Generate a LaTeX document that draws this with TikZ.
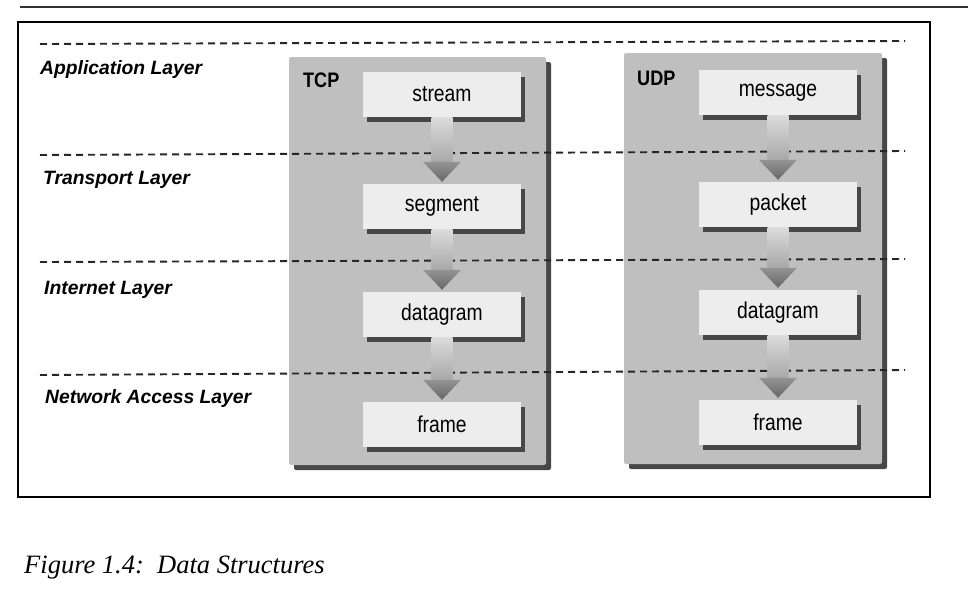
\documentclass[tikz,border=0pt]{standalone}
\usepackage{fontspec}
\setmainfont{Liberation Sans}
\newfontfamily\capfont{Liberation Serif}
\newfontfamily\condfont[FakeStretch=0.86]{Liberation Sans}
\newfontfamily\boxfont[FakeStretch=0.84]{Liberation Sans}
\usetikzlibrary{shadows,calc}
\definecolor{panelgray}{gray}{0.75}
\definecolor{boxgray}{gray}{0.93}
\definecolor{shadowgray}{gray}{0.28}
\definecolor{stemtop}{gray}{0.86}
\definecolor{stembot}{gray}{0.66}
\definecolor{headtop}{gray}{0.58}
\definecolor{headbot}{gray}{0.4}
\newcommand\flowarrow[2]{%
  \shade[top color=stemtop, bottom color=stembot] ($(#1.south)+(-10.5,0)$) rectangle ($(#2.north)+(10.5,-22)$);
  \shade[top color=headtop, bottom color=headbot] ($(#2.north)+(-19,-22)$) -- ($(#2.north)+(19,-22)$) -- ($(#2.north)+(0,-2)$) -- cycle;}
\tikzset{
  panel/.style={fill=panelgray, inner sep=0pt, rounded corners=2pt,
    drop shadow={shadow xshift=5pt, shadow yshift=-5pt, fill=shadowgray, opacity=1}},
  pkt/.style={fill=boxgray, inner sep=0pt, minimum width=158pt, minimum height=45pt,
    font=\fontsize{23}{26}\selectfont\boxfont,
    drop shadow={shadow xshift=4pt, shadow yshift=-5pt, fill=shadowgray, opacity=1}},
  layer/.style={anchor=base west, inner sep=0pt, font=\fontsize{19.3}{22}\selectfont\bfseries\itshape},
  proto/.style={anchor=base west, inner sep=0pt, font=\fontsize{21}{24}\selectfont\condfont\bfseries},
  sep/.style={line width=1.9pt, dash pattern=on 7pt off 5pt, black!85},
}
\begin{document}
\begin{tikzpicture}[x=1pt,y=-1pt]
\useasboundingbox (0,0) rectangle (968,611);
% rules and frame
\draw[line width=1.3pt, black!80] (20,7) -- (968,7);
\draw[line width=2pt] (18,22) rectangle (930,497);
% panels
\node[panel, minimum width=257pt, minimum height=408pt] (tcp) at (417.5,261) {};
\node[panel, minimum width=258pt, minimum height=411pt] (udp) at (753,258.5) {};
\node[proto] (tcpl) at (303,87) {TCP};
\node[proto] (udpl) at (637,85) {UDP};
% layer separators
\draw[sep] (40,44) -- (905,41);
\draw[sep] (40,155) -- (905,151);
\draw[sep] (40,262) -- (905,259);
\draw[sep] (40,375) -- (905,370);
% layer labels
\node[layer] (app) at (40,74) {Application Layer};
\node[layer] (trn) at (43,184) {Transport Layer};
\node[layer] (int) at (44,294) {Internet Layer};
\node[layer] (net) at (45,403) {Network Access Layer};
% TCP boxes
\node[pkt] (t1) at (442,94.5) {stream};
\node[pkt] (t2) at (442,206.5) {segment};
\node[pkt] (t3) at (442,314.5) {datagram};
\node[pkt] (t4) at (442,424.5) {frame};
% UDP boxes
\node[pkt] (u1) at (778,92.5) {message};
\node[pkt] (u2) at (778,204.5) {packet};
\node[pkt] (u3) at (778,312.5) {datagram};
\node[pkt] (u4) at (778,422.5) {frame};
% arrows
\flowarrow{t1}{t2}
\flowarrow{t2}{t3}
\flowarrow{t3}{t4}
\flowarrow{u1}{u2}
\flowarrow{u2}{u3}
\flowarrow{u3}{u4}
% caption
\node[anchor=base west, inner sep=0pt, font=\fontsize{26.5}{30}\selectfont\capfont\itshape] (cap) at (24,573) {Figure 1.4:\ \ Data Structures};
\end{tikzpicture}
\end{document}
